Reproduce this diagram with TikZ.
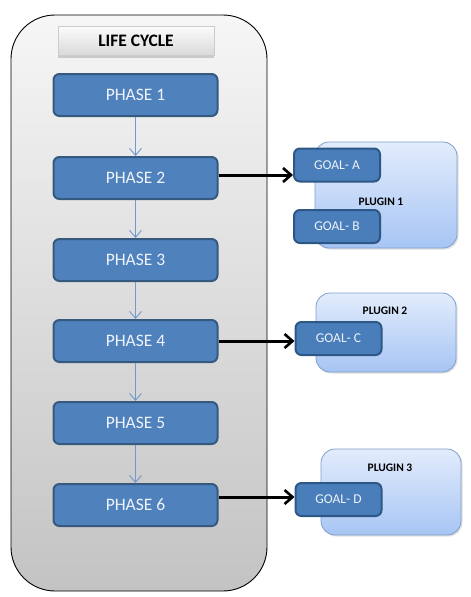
\documentclass[tikz,border=0pt]{standalone}
\usepackage{fontspec}
\setmainfont{Carlito}
\usetikzlibrary{arrows.meta,shadows}
\definecolor{phasefill}{HTML}{4F81BD}
\definecolor{phaseline}{HTML}{35597F}
\definecolor{goalfill}{HTML}{4A7EBB}
\definecolor{goalline}{HTML}{2D5784}
\definecolor{plugtop}{HTML}{E2ECFC}
\definecolor{plugbot}{HTML}{A7C5F4}
\definecolor{plugline}{HTML}{7D9FCC}
\definecolor{flowline}{HTML}{7399CC}
\definecolor{phasetext}{HTML}{EEF3FA}
\begin{document}
\begin{tikzpicture}[x=1pt,y=-1pt,
  container/.style={draw=black, line width=0.9pt, rounded corners=44pt,
    top color=gray!7, bottom color=gray!47, minimum width=256pt, minimum height=576pt, inner sep=0pt},
  header/.style={top color=gray!3, bottom color=gray!30, draw=gray!40, line width=0.3pt,
    drop shadow={shadow xshift=0pt, shadow yshift=-2pt, opacity=0.35},
    minimum width=156pt, minimum height=29pt, inner sep=0pt,
    font=\fontsize{17.5}{20}\selectfont\bfseries},
  phasebox/.style={draw=phaseline, line width=2pt, fill=phasefill, rounded corners=6pt,
    minimum width=164pt, minimum height=42pt, inner sep=0pt, text=phasetext,
    font=\fontsize{17.5}{20}\selectfont},
  goalbox/.style={draw=goalline, line width=2pt, fill=goalfill, rounded corners=6pt,
    minimum width=86pt, minimum height=33pt, inner sep=0pt, text=phasetext,
    font=\fontsize{13.5}{15}\selectfont},
  plugbox/.style={draw=plugline, line width=0.8pt, top color=plugtop, bottom color=plugbot,
    rounded corners=14pt, inner sep=0pt,
    drop shadow={shadow xshift=1.5pt, shadow yshift=-1.5pt, opacity=0.25}},
  pluglabel/.style={font=\fontsize{11.5}{13}\selectfont\bfseries, inner sep=0pt},
  flowarrow/.style={draw=flowline, line width=0.9pt, -{Straight Barb[length=7pt,width=12pt]}},
  goalarrow/.style={draw=black, line width=3pt, -{Straight Barb[length=8pt,width=14pt,line width=2.6pt]}}
]
\useasboundingbox (0,0) rectangle (471,597);

\node[container] (lc) at (139,303) {};
\node[header] (hd) at (136,41) {LIFE CYCLE};

\node[phasebox] (p1) at (135.5,95) {PHASE 1};
\node[phasebox] (p2) at (135.5,178) {PHASE 2};
\node[phasebox] (p3) at (135.5,260) {PHASE 3};
\node[phasebox] (p4) at (135.5,341) {PHASE 4};
\node[phasebox] (p5) at (135.5,423) {PHASE 5};
\node[phasebox] (p6) at (135.5,505) {PHASE 6};

\draw[flowarrow] (p1) -- (p2);
\draw[flowarrow] (p2) -- (p3);
\draw[flowarrow] (p3) -- (p4);
\draw[flowarrow] (p4) -- (p5);
\draw[flowarrow] (p5) -- (p6);

\node[plugbox, minimum width=142pt, minimum height=106pt] (pg1) at (386,195) {};
\node[plugbox, minimum width=140pt, minimum height=79pt] (pg2) at (386,332.5) {};
\node[plugbox, minimum width=140pt, minimum height=86pt] (pg3) at (391,492) {};

\node[pluglabel] (pl1) at (381,202) {PLUGIN 1};
\node[pluglabel] (pl2) at (385,311) {PLUGIN 2};
\node[pluglabel] (pl3) at (390,468) {PLUGIN 3};

\node[goalbox] (gA) at (337,165) {GOAL- A};
\node[goalbox] (gB) at (337,226.5) {GOAL- B};
\node[goalbox] (gC) at (338.5,338.5) {GOAL- C};
\node[goalbox] (gD) at (338.5,499.5) {GOAL- D};

\draw[goalarrow] ([yshift=3pt]p2.east) -- ([yshift=3pt]p2.east -| gA.west);
\draw[goalarrow] (p4.east) -- (p4.east -| gC.west);
\draw[goalarrow] ([yshift=8pt]p6.east) -- ([yshift=8pt]p6.east -| gD.west);
\end{tikzpicture}
\end{document}
